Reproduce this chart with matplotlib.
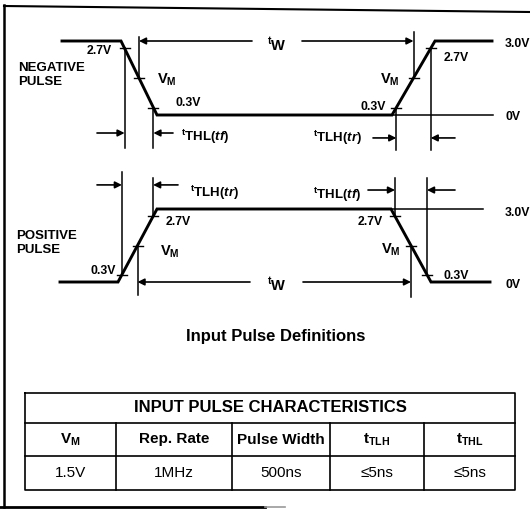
import matplotlib

matplotlib.use("Agg")
import matplotlib.pyplot as plt
import numpy as np

plt.rcParams["font.family"] = ["Liberation Sans", "DejaVu Sans"]
plt.rcParams["font.weight"] = "bold"
plt.rcParams["mathtext.fontset"] = "custom"
plt.rcParams["mathtext.rm"] = "Liberation Sans:bold"
plt.rcParams["mathtext.it"] = "Liberation Sans:bold:italic"
plt.rcParams["mathtext.bf"] = "Liberation Sans:bold"

# waveforms: time (arbitrary units across the page) and voltage
NEG_T = [62, 121, 157, 392, 435, 492]
NEG_V = [3.0, 3.0, 0.0, 0.0, 3.0, 3.0]
POS_T = [60, 118, 157, 391, 431, 490]
POS_V = [0.0, 0.0, 3.0, 3.0, 0.0, 0.0]
MEAS_LEVELS = [0.3, 1.5, 2.7]

# table
TABLE_TITLE = "INPUT PULSE CHARACTERISTICS"
COL_HEADERS = [r"$\mathrm{V_M}$", "Rep. Rate", "Pulse Width",
               r"$\mathrm{t_{TLH}}$", r"$\mathrm{t_{THL}}$"]
COL_VALUES = ["1.5V", "1MHz", "500ns", "≤5ns", "≤5ns"]

W, H = 530, 513
fig = plt.figure(figsize=(W / 100, H / 100), dpi=100)
fig.patch.set_facecolor("white")

TW = r"$^{\mathrm{t}}\mathrm{W}$"
TTHL = r"$^{\mathrm{t}}\mathrm{THL(}\mathit{tf}\mathrm{)}$"
TTLH = r"$^{\mathrm{t}}\mathrm{TLH(}\mathit{tr}\mathrm{)}$"
VM = r"$\mathrm{V_M}$"


def panel(y0_px, y3_px, top_px, bot_px):
    ppv = (y0_px - y3_px) / 3.0
    ax = fig.add_axes([0, 1 - bot_px / H, 1, (bot_px - top_px) / H])
    ax.set_xlim(0, W)
    ax.set_ylim((y0_px - bot_px) / ppv, (y0_px - top_px) / ppv)
    ax.axis("off")
    ax.patch.set_alpha(0)
    return ax


def cross(t, v, i, lvl):
    if v[i] < v[i + 1]:
        return float(np.interp(lvl, [v[i], v[i + 1]], [t[i], t[i + 1]]))
    return float(np.interp(lvl, [v[i + 1], v[i]], [t[i + 1], t[i]]))


def arrow(ax, x_head, x_tail, y):
    ax.annotate("", xy=(x_head, y), xytext=(x_tail, y),
                arrowprops=dict(arrowstyle="-|>", color="k", lw=1.2,
                                mutation_scale=10, shrinkA=0, shrinkB=0))


def vline(ax, x, y1, y2):
    ax.plot([x, x], [y1, y2], color="k", lw=1.1)


def meas_ticks(ax, t, v, i):
    for lvl in MEAS_LEVELS:
        x = cross(t, v, i, lvl)
        ax.plot([x - 5, x + 5], [lvl, lvl], color="k", lw=1.0)


# ---- negative pulse ----
axn = panel(115, 41, 20, 160)
axn.plot(NEG_T, NEG_V, color="k", lw=2.1, solid_joinstyle="miter")
meas_ticks(axn, NEG_T, NEG_V, 1)
meas_ticks(axn, NEG_T, NEG_V, 3)
f27, f15, f03 = (cross(NEG_T, NEG_V, 1, l) for l in (2.7, 1.5, 0.3))
r03, r15, r27 = (cross(NEG_T, NEG_V, 3, l) for l in (0.3, 1.5, 2.7))
vline(axn, f27, 2.7, -1.35)
vline(axn, f15, 3.15, 1.5)
vline(axn, f03, 0.3, -1.35)
vline(axn, r03, 0.3, -1.4)
vline(axn, r15, 3.35, 1.5)
vline(axn, r27, 2.7, -1.4)
axn.plot([NEG_T[3], 493], [0, 0], color="k", lw=1.1)
arrow(axn, f27, 97, -0.73)
arrow(axn, f03, 173, -0.73)
arrow(axn, r03, 373, -0.93)
arrow(axn, r27, 455, -0.93)
arrow(axn, f15, 252, 3.0)
arrow(axn, r15, 302, 3.0)

# ---- positive pulse ----
axp = panel(282, 209, 160, 305)
axp.plot(POS_T, POS_V, color="k", lw=2.1, solid_joinstyle="miter")
meas_ticks(axp, POS_T, POS_V, 1)
meas_ticks(axp, POS_T, POS_V, 3)
pr03, pr15, pr27 = (cross(POS_T, POS_V, 1, l) for l in (0.3, 1.5, 2.7))
pf27, pf15, pf03 = (cross(POS_T, POS_V, 3, l) for l in (2.7, 1.5, 0.3))
vline(axp, pr03, 4.52, 0.3)
vline(axp, pr27, 4.27, 2.7)
vline(axp, pr15, 1.5, -0.53)
vline(axp, pf27, 4.27, 2.7)
vline(axp, pf03, 4.27, 0.3)
vline(axp, pf15, 1.5, -0.62)
axp.plot([POS_T[3], 483], [3, 3], color="k", lw=1.1)
arrow(axp, pr03, 97, 3.99)
arrow(axp, pr27, 178, 3.99)
arrow(axp, pf27, 368, 3.78)
arrow(axp, pf03, 455, 3.78)
arrow(axp, pr15, 250, 0.0)
arrow(axp, pf15, 303, 0.0)

# ---- overlay: frame, labels, table ----
ov = fig.add_axes([0, 0, 1, 1])
ov.set_xlim(0, W)
ov.set_ylim(H, 0)
ov.axis("off")
ov.patch.set_alpha(0)

ov.plot([4, 4], [5, 507], color="k", lw=1.8)
ov.plot([4, 530], [6, 12], color="k", lw=1.5)
ov.plot([0, 265], [507, 507], color="k", lw=2.0)
ov.plot([265, 285], [507, 507], color="#999999", lw=1.2)

small = dict(fontsize=8.8, fontweight="bold", va="center")
pulse = dict(fontsize=9.5, fontweight="bold", va="center", linespacing=1.3)
vm = dict(fontsize=10.5, va="center")
tt = dict(fontsize=9.5, va="center")

ov.text(18, 75, "NEGATIVE\nPULSE", **pulse)
ov.text(112, 51, "2.7V", ha="right", **small)
ov.text(157, 80, VM, ha="left", **vm)
ov.text(175, 103, "0.3V", ha="left", **small)
ov.text(267, 45, TW, ha="left", **vm)
ov.text(181, 137, TTHL, ha="left", **tt)
ov.text(313, 138, TTLH, ha="left", **tt)
ov.text(380, 80, VM, ha="left", **vm)
ov.text(386, 107, "0.3V", ha="right", **small)
ov.text(444, 58, "2.7V", ha="left", **small)
ov.text(505, 44, "3.0V", ha="left", **small)
ov.text(506, 117, "0V", ha="left", **small)

ov.text(16, 243, "POSITIVE\nPULSE", **pulse)
ov.text(116, 271, "0.3V", ha="right", **small)
ov.text(160, 252, VM, ha="left", **vm)
ov.text(166, 222, "2.7V", ha="left", **small)
ov.text(190, 193, TTLH, ha="left", **tt)
ov.text(313, 195, TTHL, ha="left", **tt)
ov.text(383, 222, "2.7V", ha="right", **small)
ov.text(381, 250, VM, ha="left", **vm)
ov.text(443, 276, "0.3V", ha="left", **small)
ov.text(505, 213, "3.0V", ha="left", **small)
ov.text(506, 285, "0V", ha="left", **small)
ov.text(267, 285, TW, ha="left", **vm)

ov.text(276, 336, "Input Pulse Definitions", ha="center", va="center",
        fontsize=12, fontweight="bold")

# table grid
tx0, tx1 = 25, 515
ty = [393, 423, 456, 490]
col_x = [tx0, 116, 232, 330, 424, tx1]
ov.plot([tx0, tx1, tx1, tx0, tx0], [ty[0], ty[0], ty[3], ty[3], ty[0]], color="k", lw=1.2)
ov.plot([tx0, tx1], [ty[1], ty[1]], color="k", lw=1.2)
ov.plot([tx0, tx1], [ty[2], ty[2]], color="k", lw=1.2)
for cx in col_x[1:-1]:
    ov.plot([cx, cx], [ty[1], ty[3]], color="k", lw=1.2)
ov.text((tx0 + tx1) / 2, (ty[0] + ty[1]) / 2, TABLE_TITLE, ha="center", va="center",
        fontsize=12, fontweight="bold")
for i, (hd, val) in enumerate(zip(COL_HEADERS, COL_VALUES)):
    cx = (col_x[i] + col_x[i + 1]) / 2
    ov.text(cx, (ty[1] + ty[2]) / 2, hd, ha="center", va="center", fontsize=11,
            fontweight="bold")
    ov.text(cx, (ty[2] + ty[3]) / 2, val, ha="center", va="center", fontsize=11,
            fontweight="normal")

fig.savefig("out.png", dpi=100, facecolor="white")
